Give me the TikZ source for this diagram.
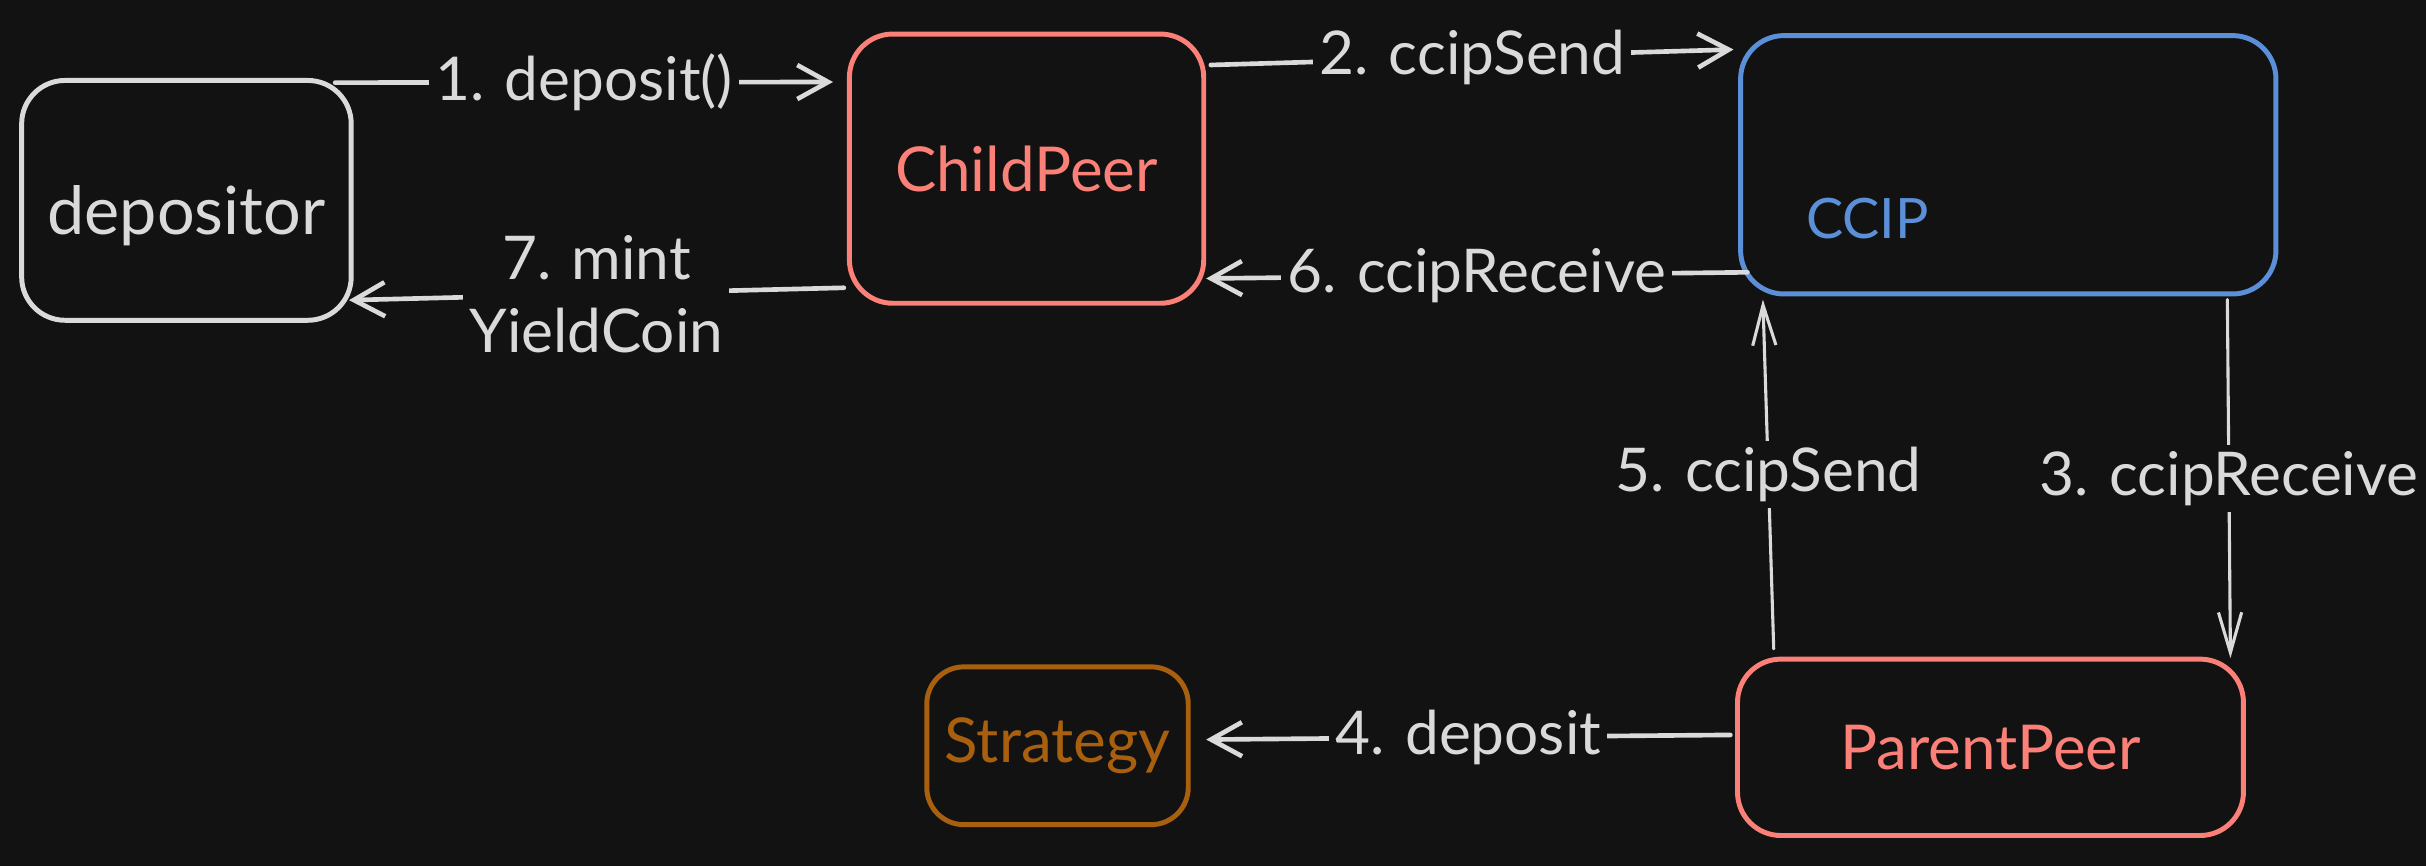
\documentclass[tikz,border=0pt]{standalone}
\usepackage{fontspec}
\setmainfont{Lato}
\usetikzlibrary{arrows.meta}
\definecolor{bgdark}{HTML}{121212}
\definecolor{inkgray}{HTML}{DADADA}
\definecolor{peerred}{HTML}{FA8078}
\definecolor{ccipblue}{HTML}{5B8FD8}
\definecolor{stratbrown}{HTML}{A8600F}
\tikzset{
  box/.style={draw,line width=3.2pt,rounded corners=28pt,fill=bgdark,
    font=\fontsize{40}{44}\selectfont,inner sep=0pt},
  conn/.style={draw=inkgray,line width=3pt,line cap=round,
    -{Straight Barb[length=20pt,width=22pt,line width=3pt]}},
  thinconn/.style={draw=inkgray,line width=2pt,line cap=round,
    -{Straight Barb[length=26pt,width=15pt,line width=2pt]}},
  lbl/.style={fill=bgdark,text=inkgray,inner sep=4pt,align=center,
    font=\fontsize{39}{47}\selectfont}
}
\begin{document}
\begin{tikzpicture}[x=1pt,y=-1pt]
\fill[bgdark] (0,0) rectangle (1568,560);
\useasboundingbox (0,0) rectangle (1568,560);
% boxes
\node[box,draw=inkgray,text=inkgray,minimum width=213pt,minimum height=155pt,
  text height=52pt,font=\fontsize{43}{48}\selectfont] (dep) at (120.5,129.5) {depositor};
\node[box,draw=peerred,text=peerred,minimum width=229pt,minimum height=174pt] (child) at (663.5,109) {ChildPeer};
\node[box,draw=ccipblue,minimum width=346pt,minimum height=167pt] (ccip) at (1298,106.5) {};
\node[text=ccipblue,font=\fontsize{36}{40}\selectfont] (cciptext) at (1207,141) {CCIP};
\node[box,draw=peerred,text=peerred,minimum width=327pt,minimum height=114pt] (parent) at (1286.5,483) {ParentPeer};
\node[box,draw=stratbrown,text=stratbrown,rounded corners=24pt,minimum width=169pt,minimum height=102pt,
  font=\fontsize{40}{44}\selectfont] (strat) at (683.5,482) {Strategy};
% arrows
\draw[conn] ([xshift=-12pt,yshift=-3pt]dep.north east) -- node[lbl] {1. deposit()} ([xshift=-9pt,yshift=56pt]child.west);
\draw[conn] ([xshift=3pt,yshift=67pt]child.east) -- node[lbl] {2. ccipSend} ([xshift=-3pt,yshift=74.5pt]ccip.west);
\draw[conn] ([xshift=6pt,yshift=-69.5pt]ccip.west) -- node[lbl] {6. ccipReceive} ([yshift=-71pt]child.east);
\draw[conn] ([xshift=-2pt,yshift=-77pt]child.west) -- node[lbl] {7. mint\\YieldCoin} ([xshift=-3pt,yshift=-64.5pt]dep.east);
\draw[thinconn] ([xshift=-33pt,yshift=-2pt]ccip.south east) -- node[lbl] {3. ccipReceive} ([xshift=-10pt,yshift=-1pt]parent.north east);
\draw[thinconn] ([xshift=25pt,yshift=5pt]parent.north west) -- node[lbl] {5. ccipSend} ([xshift=16pt,yshift=-2pt]ccip.south west);
\draw[conn] ([xshift=-3pt,yshift=8pt]parent.west) -- node[lbl] {4. deposit} ([xshift=10pt,yshift=4pt]strat.east);
\end{tikzpicture}
\end{document}
